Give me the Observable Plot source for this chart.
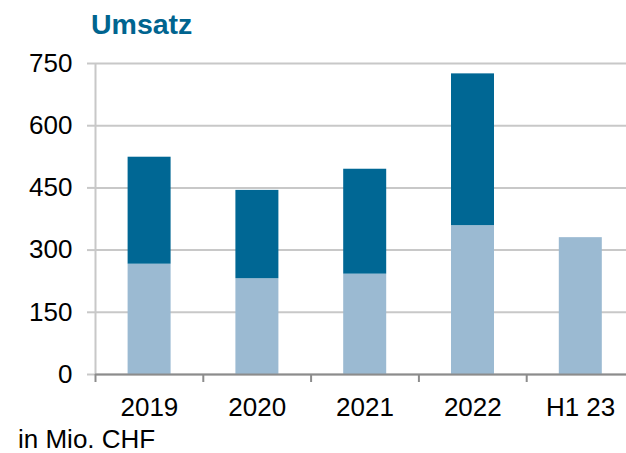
<!DOCTYPE html>
<html><head><meta charset="utf-8">
<script src="https://cdn.jsdelivr.net/npm/d3@7"></script>
<script src="https://cdn.jsdelivr.net/npm/@observablehq/plot@0.6"></script>
<style>
html,body{margin:0;padding:0;background:#fff;}
#wrap{position:relative;width:626px;height:453px;overflow:hidden;font-family:"Liberation Sans",Arial,sans-serif;}
#title{position:absolute;left:91px;top:10px;font-size:28.5px;line-height:28px;font-weight:bold;color:#00648f;white-space:nowrap;}
#caption{position:absolute;left:18px;top:427px;font-size:26px;line-height:25px;color:#000;white-space:nowrap;}
#chart{position:absolute;left:0;top:0;}
</style></head><body>
<div id="wrap"><div id="chart"></div><div id="title">Umsatz</div><div id="caption">in Mio. CHF</div></div>
<script>
const categories = ["2019", "2020", "2021", "2022", "H1 23"];
const firstHalf = [266, 231, 242, 359, 330];
const secondHalf = [258, 213, 253, 366, null];
const yTicks = [0, 150, 300, 450, 600, 750];
const partNames = ["H1", "H2"];

const rows = [];
categories.forEach((c, i) => {
  rows.push({i, cat: c, part: "H1", value: firstHalf[i]});
  if (secondHalf[i] != null) rows.push({i, cat: c, part: "H2", value: secondHalf[i]});
});
const idx = d3.range(categories.length);

const chart = Plot.plot({
  width: 626, height: 453,
  marginTop: 63, marginBottom: 79, marginLeft: 95, marginRight: 0,
  style: {fontFamily: "Liberation Sans, Arial, sans-serif", fontSize: "26px", color: "#000", background: "transparent", overflow: "visible"},
  x: {type: "linear", domain: [0, categories.length], range: [95, 634], axis: null, label: null},
  y: {domain: [0, 750], axis: null, label: null},
  color: {domain: partNames, range: ["#9bbad2", "#006794"]},
  marks: [
    Plot.gridY(yTicks, {stroke: "#c8c8c8", strokeOpacity: 1, strokeWidth: 2}),
    Plot.axisY({ticks: yTicks, label: null, tickSize: 8, tickPadding: 15, stroke: "#c8c8c8", strokeWidth: 2, fill: "#000", fontSize: 26, tickFormat: d => String(d)}),
    Plot.ruleX([0], {y1: 0, y2: 750, stroke: "#c8c8c8", strokeWidth: 2}),
    Plot.rectY(rows, {x1: "i", x2: d => d.i + 1, y: "value", fill: "part", insetLeft: 32.6, insetRight: 32.2}),
    Plot.ruleY([0], {stroke: "#8c8c8c", strokeWidth: 2}),
    Plot.axisX({ticks: idx, label: null, tickSize: 8, tickFormat: () => "", stroke: "#8c8c8c", strokeWidth: 2}),
    Plot.axisX({ticks: idx.map(i => i + 0.5), label: null, tickSize: 0, tickPadding: 23, fill: "#000", fontSize: 26, tickFormat: d => categories[Math.floor(d)]})
  ]
});
document.getElementById("chart").appendChild(chart);
</script>
</body></html>
